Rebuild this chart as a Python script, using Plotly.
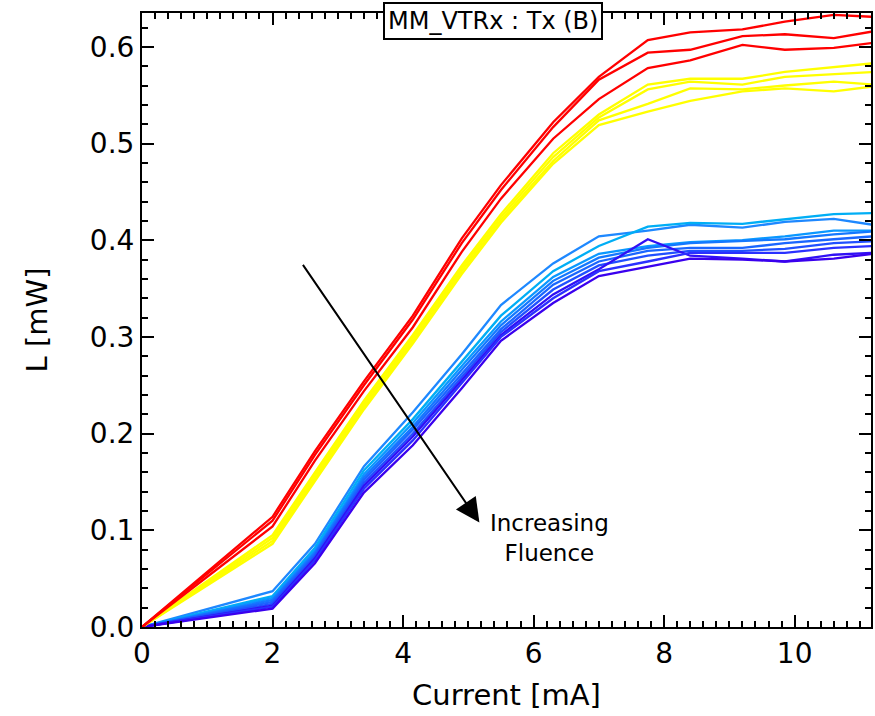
import plotly.graph_objects as go

current = [0, 2.0, 2.65, 3.4, 4.15, 4.9, 5.5, 6.3, 7.0, 7.75, 8.4, 9.2, 9.85, 10.6, 11.2]

red_series = [
    [0, 0.114, 0.182, 0.254, 0.322, 0.402, 0.457, 0.522, 0.569, 0.607, 0.615, 0.618, 0.626, 0.633, 0.631],
    [0, 0.110, 0.178, 0.250, 0.318, 0.397, 0.452, 0.517, 0.566, 0.594, 0.597, 0.611, 0.613, 0.609, 0.616],
    [0, 0.104, 0.172, 0.244, 0.310, 0.388, 0.443, 0.505, 0.546, 0.578, 0.586, 0.602, 0.597, 0.599, 0.604],
]
yellow_series = [
    [0, 0.095, 0.160, 0.234, 0.302, 0.374, 0.427, 0.490, 0.530, 0.561, 0.567, 0.567, 0.574, 0.579, 0.583],
    [0, 0.092, 0.157, 0.231, 0.299, 0.371, 0.424, 0.486, 0.527, 0.556, 0.564, 0.561, 0.569, 0.572, 0.574],
    [0, 0.089, 0.154, 0.228, 0.296, 0.368, 0.421, 0.482, 0.524, 0.541, 0.557, 0.556, 0.560, 0.564, 0.561],
    [0, 0.086, 0.151, 0.225, 0.293, 0.365, 0.418, 0.479, 0.519, 0.533, 0.544, 0.554, 0.557, 0.554, 0.559],
]
blue_series = [
    [0, 0.037, 0.086, 0.166, 0.222, 0.282, 0.333, 0.376, 0.404, 0.410, 0.416, 0.413, 0.419, 0.422, 0.416],
    [0, 0.032, 0.082, 0.162, 0.215, 0.275, 0.322, 0.368, 0.394, 0.414, 0.418, 0.417, 0.422, 0.427, 0.428],
    [0, 0.030, 0.079, 0.158, 0.211, 0.270, 0.316, 0.362, 0.386, 0.394, 0.398, 0.400, 0.404, 0.410, 0.410],
    [0, 0.028, 0.077, 0.155, 0.207, 0.266, 0.312, 0.358, 0.382, 0.392, 0.397, 0.399, 0.401, 0.406, 0.409],
    [0, 0.026, 0.075, 0.152, 0.204, 0.262, 0.308, 0.354, 0.378, 0.389, 0.392, 0.392, 0.397, 0.401, 0.404],
    [0, 0.024, 0.073, 0.149, 0.200, 0.258, 0.305, 0.349, 0.374, 0.384, 0.389, 0.389, 0.391, 0.397, 0.399],
    [0, 0.022, 0.071, 0.146, 0.197, 0.255, 0.302, 0.344, 0.370, 0.401, 0.384, 0.381, 0.378, 0.385, 0.387],
    [0, 0.021, 0.069, 0.143, 0.193, 0.252, 0.300, 0.340, 0.368, 0.378, 0.387, 0.387, 0.387, 0.392, 0.394],
    [0, 0.019, 0.066, 0.139, 0.188, 0.247, 0.296, 0.335, 0.363, 0.373, 0.381, 0.380, 0.378, 0.381, 0.386],
]

red_colors = ["#FF0000"] * 3
yellow_colors = ["#FFFF00"] * 4
blue_colors = ["#1E88FF", "#00AEF5", "#0A98FF", "#1478FF", "#1A66FF",
               "#2050FF", "#3010F5", "#2A30FF", "#3A00EE"]

x_tick_vals = [0, 2, 4, 6, 8, 10]
y_tick_vals = [0.0, 0.1, 0.2, 0.3, 0.4, 0.5, 0.6]

FONT = "DejaVu Sans"

fig = go.Figure()
for series, colors in [(blue_series, blue_colors), (yellow_series, yellow_colors), (red_series, red_colors)]:
    for ys, c in zip(series, colors):
        fig.add_trace(go.Scatter(x=current, y=ys, mode="lines",
                                 line=dict(color=c, width=2.3), showlegend=False,
                                 hoverinfo="skip"))

axis_common = dict(
    showgrid=False, zeroline=False, showline=True, linecolor="black", linewidth=2,
    mirror="ticks", ticks="inside", ticklen=12, tickwidth=2, tickcolor="black",
    tickfont=dict(family=FONT, size=28, color="black"),
)

fig.update_xaxes(
    range=[0, 11.17], tickvals=x_tick_vals, ticktext=[str(v) for v in x_tick_vals],
    title=dict(text="Current [mA]", font=dict(family=FONT, size=29, color="black"), standoff=16),
    minor=dict(dtick=0.2, ticks="inside", ticklen=6, tickwidth=2, tickcolor="black"),
    **axis_common,
)
fig.update_yaxes(
    range=[0, 0.635], tickvals=y_tick_vals, ticktext=[f"{v:.1f}" for v in y_tick_vals],
    title=dict(text="L [mW]", font=dict(family=FONT, size=29, color="black"), standoff=34),
    minor=dict(dtick=0.02, ticks="inside", ticklen=6, tickwidth=2, tickcolor="black"),
    **axis_common,
)

fig.add_annotation(
    x=5.17, y=0.108, ax=2.45, ay=0.376, xref="x", yref="y", axref="x", ayref="y",
    showarrow=True, arrowhead=2, arrowsize=2.4, arrowwidth=2, arrowcolor="black", text="",
)
fig.add_annotation(
    x=6.25, y=0.092, xref="x", yref="y", text="Increasing<br>Fluence", showarrow=False,
    font=dict(family=FONT, size=23, color="black"), align="center",
)
fig.add_annotation(
    x=0.481, y=0.987, xref="paper", yref="paper", text="MM_VTRx : Tx (B)", showarrow=False,
    font=dict(family=FONT, size=24, color="black"), bgcolor="white",
    bordercolor="black", borderwidth=2, borderpad=3, xanchor="center", yanchor="middle",
)

fig.update_layout(
    width=875, height=716, margin=dict(l=142, r=2, t=13, b=89),
    paper_bgcolor="white", plot_bgcolor="white",
)

fig.write_html("out.html")
